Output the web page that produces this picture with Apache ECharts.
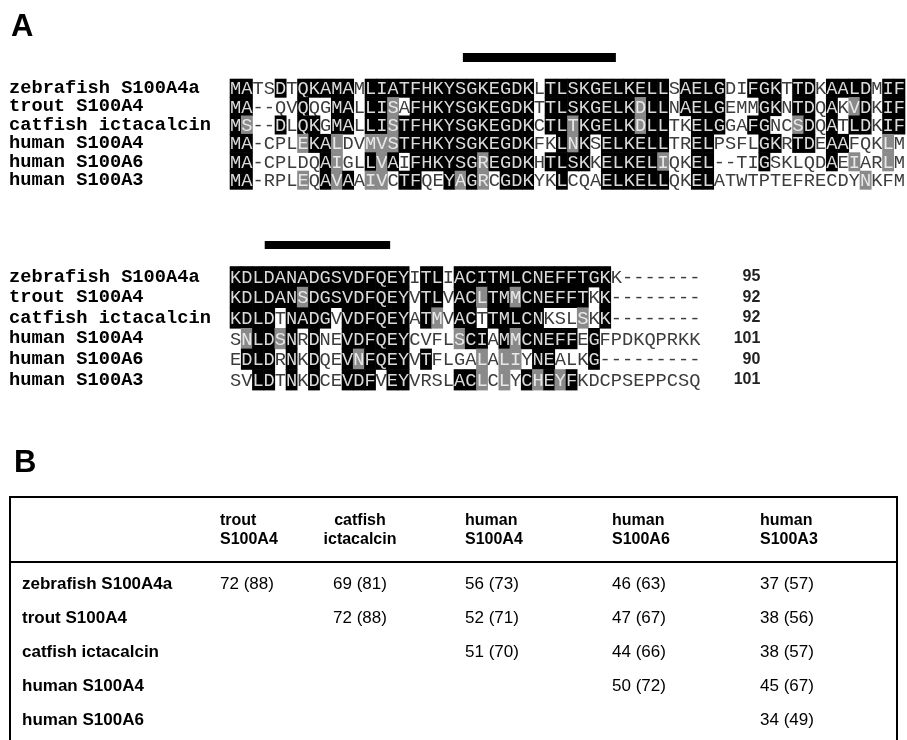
<!DOCTYPE html>
<html><head><meta charset="utf-8">
<script src="https://cdn.jsdelivr.net/npm/echarts@6/dist/echarts.min.js"></script>
<style>html,body{margin:0;padding:0;background:#fff}#c{width:907px;height:740px}</style>
</head><body><div id="c"></div><script>
// ---------- data ----------
const speciesLabels = ['zebrafish S100A4a','trout S100A4','catfish ictacalcin','human S100A4','human S100A6','human S100A3'];
const block1Sequences = [
  'MATSDTQKAMAMLIATFHKYSGKEGDKLTLSKGELKELLSAELGDIFGKTTDKAALDMIF',
  'MA--QVQQGMALLISAFHKYSGKEGDKTTLSKGELKDLLNAELGEMMGKNTDQAKVDKIF',
  'MS--DLQKGMALLISTFHKYSGKEGDKCTLTKGELKDLLTKELGGAFGNCSDQATLDKIF',
  'MA-CPLEKALDVMVSTFHKYSGKEGDKFKLNKSELKELLTRELPSFLGKRTDEAAFQKLM',
  'MA-CPLDQAIGLLVAIFHKYSGREGDKHTLSKKELKELIQKEL--TIGSKLQDAEIARLM',
  'MA-RPLEQAVAAIVCTFQEYAGRCGDKYKLCQAELKELLQKELATWTPTEFRECDYNKFM'
];
const block2Sequences = [
  'KDLDANADGSVDFQEYITLIACITMLCNEFFTGKK-------',
  'KDLDANSDGSVDFQEYVTLVACLTMMCNEFFTKK--------',
  'KDLDTNADGVVDFQEYATMVACTTMLCNKSLSKK--------',
  'SNLDSNRDNEVDFQEYCVFLSCIAMMCNEFFEGFPDKQPRKK',
  'EDLDRNKDQEVNFQEYVTFLGALALIYNEALKG---------',
  'SVLDTNKDCEVDFVEYVRSLACLCLYCHEYFKDCPSEPPCSQ'
];
const sequenceLengths = ['95','92','92','101','90','101'];
const motif1Columns = [20.7, 34.3];
const motif2Columns = [3.1, 14.3];
const tableHeaders = [['trout','S100A4'],['catfish','ictacalcin'],['human','S100A4'],['human','S100A6'],['human','S100A3']];
const tableRowNames = ['zebrafish S100A4a','trout S100A4','catfish ictacalcin','human S100A4','human S100A6'];
const tableValues = [
  ['72 (88)','69 (81)','56 (73)','46 (63)','37 (57)'],
  [null,'72 (88)','52 (71)','47 (67)','38 (56)'],
  [null,null,'51 (70)','44 (66)','38 (57)'],
  [null,null,null,'50 (72)','45 (67)'],
  [null,null,null,null,'34 (49)']
];

// ---------- shading rule (reference = first sequence) ----------
const SIMILAR = ['AS','ST','ND','NS','NH','DE','QE','QR','KR','IL','IV','IM','LM','LV','MV','FY','FW','YW','HY'];
function isSim(a,b){return SIMILAR.includes(a+b)||SIMILAR.includes(b+a);}
function shade(seqs,r,c){
  const ref=seqs[0][c], ch=seqs[r][c];
  if(ch==='-'||ref==='-') return 0;
  let hasId=false;
  for(let i=1;i<seqs.length;i++) if(seqs[i][c]===ref) hasId=true;
  if(!hasId) return 0;
  if(ch===ref) return 2;
  if(isSim(ch,ref)) return 1;
  return 0;
}

// ---------- layout ----------
const SEQ_FONT = '18.7px "Liberation Mono"';
const B1 = {left:230, top:79, width:675, height:110.4};
const B2 = {left:230, top:266.5, width:470.4, height:123.6};
const TABLE_COL_X = [210, 350, 455, 602, 750]; // relative to table grid
const TABLE_COL_ALIGN = ['left','center','left','left','left'];
const TABLE_VAL_X = [210, 323, 455, 602, 750];
const BODY_FONT = 17;

function makeCellSeries(idx, seqs){
  const cells=[];
  seqs.forEach((s,r)=>{for(let c=0;c<s.length;c++) cells.push({c,r,ch:s[c],sh:shade(seqs,r,c)});});
  return {type:'custom', xAxisIndex:idx, yAxisIndex:idx, silent:true,
    data: cells.map(d=>[d.c,d.r]),
    renderItem:(params,api)=>{
      const d=cells[params.dataIndex];
      const p=api.coord([d.c,d.r]); const sz=api.size([1,1]);
      const w=sz[0], h=sz[1];
      const children=[];
      if(d.sh>0) children.push({type:'rect', shape:{x:p[0]-0.3,y:p[1]-h/2-0.3,width:w+0.6,height:h+0.6}, style:{fill:d.sh===2?'#000':'#8a8a8a'}});
      children.push({type:'text', style:{text:d.ch, x:p[0]+w/2, y:p[1]+1, align:'center', verticalAlign:'middle', font:SEQ_FONT, fill:['#3c3c3c','#e8e8e8','#dadada'][d.sh]}});
      return {type:'group', children};
    }};
}
function makeBarSeries(idx, cols){
  return {type:'custom', xAxisIndex:idx, yAxisIndex:idx, silent:true, data:[cols],
    renderItem:(params,api)=>{
      const a=api.coord([api.value(0),1]), b=api.coord([api.value(1),0]);
      return {type:'rect', shape:{x:a[0],y:a[1],width:b[0]-a[0],height:b[1]-a[1]}, style:{fill:'#000'}};
    }};
}

const labelAxis = (names)=>({type:'category', data:names, inverse:true, axisLine:{show:false}, axisTick:{show:false}, splitLine:{show:false},
  axisLabel:{interval:0, align:'left', margin:221, fontFamily:'Liberation Mono', fontWeight:'bold', fontSize:18.7, color:'#000'}});

// table cells
const headerCells=[]; tableHeaders.forEach((h,c)=>h.forEach((t,l)=>headerCells.push({c,l,t})));
const bodyCells=[];
tableRowNames.forEach((n,r)=>{bodyCells.push({c:-1,r,t:n,bold:true}); tableValues[r].forEach((v,c)=>{if(v!==null) bodyCells.push({c,r,t:v,bold:false});});});

const option = {
  animation:false,
  title:[
    {text:'A', left:6, top:7, textStyle:{fontFamily:'Liberation Sans', fontWeight:'bold', fontSize:31, color:'#000'}},
    {text:'B', left:9, top:443, textStyle:{fontFamily:'Liberation Sans', fontWeight:'bold', fontSize:31, color:'#000'}}
  ],
  grid:[
    {left:B1.left, top:B1.top, width:B1.width, height:B1.height},
    {left:B2.left, top:B2.top, width:B2.width, height:B2.height},
    {left:B1.left, top:53, width:B1.width, height:9},
    {left:B2.left, top:241, width:B2.width, height:8},
    {left:10, top:497, width:887, height:65, show:true, borderColor:'#000', borderWidth:2, backgroundColor:'transparent'},
    {left:10, top:562, width:887, height:178}
  ],
  xAxis:[
    {gridIndex:0, type:'value', min:0, max:60, show:false},
    {gridIndex:1, type:'value', min:0, max:42, show:false},
    {gridIndex:2, type:'value', min:0, max:60, show:false},
    {gridIndex:3, type:'value', min:0, max:42, show:false},
    {gridIndex:4, type:'value', min:0, max:887, show:false},
    {gridIndex:5, type:'value', min:0, max:887, show:false}
  ],
  yAxis:[
    Object.assign({gridIndex:0}, labelAxis(speciesLabels)),
    Object.assign({gridIndex:1}, labelAxis(speciesLabels)),
    {gridIndex:2, type:'value', min:0, max:1, show:false},
    {gridIndex:3, type:'value', min:0, max:1, show:false},
    {gridIndex:4, type:'value', min:0, max:65, inverse:true, show:false},
    {gridIndex:5, type:'value', min:-0.647, max:4.588, inverse:true, show:false},
    {gridIndex:1, type:'category', data:sequenceLengths, inverse:true, position:'right', axisLine:{show:false}, axisTick:{show:false},
      axisLabel:{interval:0, align:'right', margin:60, fontFamily:'Liberation Sans', fontWeight:'bold', fontSize:16, color:'#222'}}
  ],
  series:[
    makeCellSeries(0, block1Sequences),
    makeCellSeries(1, block2Sequences),
    makeBarSeries(2, motif1Columns),
    makeBarSeries(3, motif2Columns),
    {type:'custom', xAxisIndex:4, yAxisIndex:4, silent:true, data:headerCells.map(d=>[d.c,d.l]),
      renderItem:(params,api)=>{
        const d=headerCells[params.dataIndex];
        const p=api.coord([TABLE_COL_X[d.c], 24+d.l*19]);
        return {type:'text', style:{text:d.t, x:p[0], y:p[1], align:TABLE_COL_ALIGN[d.c], verticalAlign:'middle', font:'bold 16px "Liberation Sans"', fill:'#000'}};
      }},
    {type:'custom', xAxisIndex:5, yAxisIndex:5, silent:true, data:[[0,0],[887,0]],
      renderItem:(params,api)=>{
        const top=api.coord([api.value(0),-0.647]), bot=api.coord([api.value(0),5.2]);
        return {type:'line', shape:{x1:top[0],y1:top[1],x2:bot[0],y2:bot[1]}, style:{stroke:'#000', lineWidth:2}};
      }},
    {type:'custom', xAxisIndex:5, yAxisIndex:5, silent:true, data:bodyCells.map(d=>[d.c,d.r]),
      renderItem:(params,api)=>{
        const d=bodyCells[params.dataIndex];
        const x = d.c<0 ? 12 : TABLE_VAL_X[d.c];
        const p=api.coord([x, d.r]);
        return {type:'text', style:{text:d.t, x:p[0], y:p[1], align:'left', verticalAlign:'middle', font:(d.bold?'bold ':'')+BODY_FONT+'px "Liberation Sans"', fill:'#000'}};
      }}
  ]
};
const chart = echarts.init(document.getElementById('c'), null, {renderer:'canvas'});
chart.setOption(option);
</script></body></html>
